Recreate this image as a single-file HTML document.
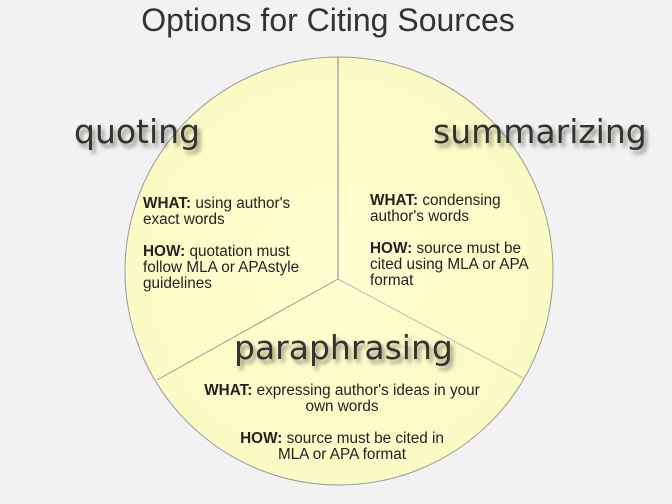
<!DOCTYPE html>
<html><head><meta charset="utf-8"><style>
body{margin:0;width:672px;height:504px;overflow:hidden;background:#f2f2f2;font-family:"Liberation Sans",sans-serif;}
.t{position:absolute;font-size:15.3px;line-height:16px;color:#222;}
.t b{color:#222}
.h{position:absolute;font-family:"DejaVu Sans",sans-serif;font-size:33px;color:#333;text-shadow:3px 4px 4px rgba(60,60,40,0.55);letter-spacing:0px;}
</style></head><body>
<svg width="672" height="504" style="position:absolute;left:0;top:0">
<defs><radialGradient id="g" cx="50%" cy="50%" r="50%"><stop offset="0" stop-color="#ffffd2"/><stop offset="1" stop-color="#fbfbc4"/></radialGradient></defs>
<circle cx="339" cy="271" r="214" fill="url(#g)" stroke="#999" stroke-width="1"/>
<line x1="338" y1="57" x2="338" y2="279" stroke="#aaa" stroke-width="1.5"/>
<line x1="338" y1="279" x2="157" y2="380" stroke="#999" stroke-width="1"/>
<line x1="338" y1="279" x2="523" y2="378" stroke="#bbb" stroke-width="1"/>
</svg>
<div style="position:absolute;left:0;width:656px;top:2px;text-align:center;font-size:32px;color:#333">Options for Citing Sources</div>
<div class="h" style="left:74px;top:112px">quoting</div>
<div class="h" style="left:433px;top:112px">summarizing</div>
<div class="h" style="left:234px;top:328px">paraphrasing</div>
<div class="t" style="left:143px;top:196px"><b>WHAT:</b> using author's<br>exact words<br><br><b>HOW:</b> quotation must<br>follow MLA or APAstyle<br>guidelines</div>
<div class="t" style="left:370px;top:193px"><b>WHAT:</b> condensing<br>author's words<br><br><b>HOW:</b> source must be<br>cited using MLA or APA<br>format</div>
<div class="t" style="left:172px;width:340px;top:383px;text-align:center"><b>WHAT:</b> expressing author's ideas in your<br>own words<br><br><b>HOW:</b> source must be cited in<br>MLA or APA format</div>
</body></html>
